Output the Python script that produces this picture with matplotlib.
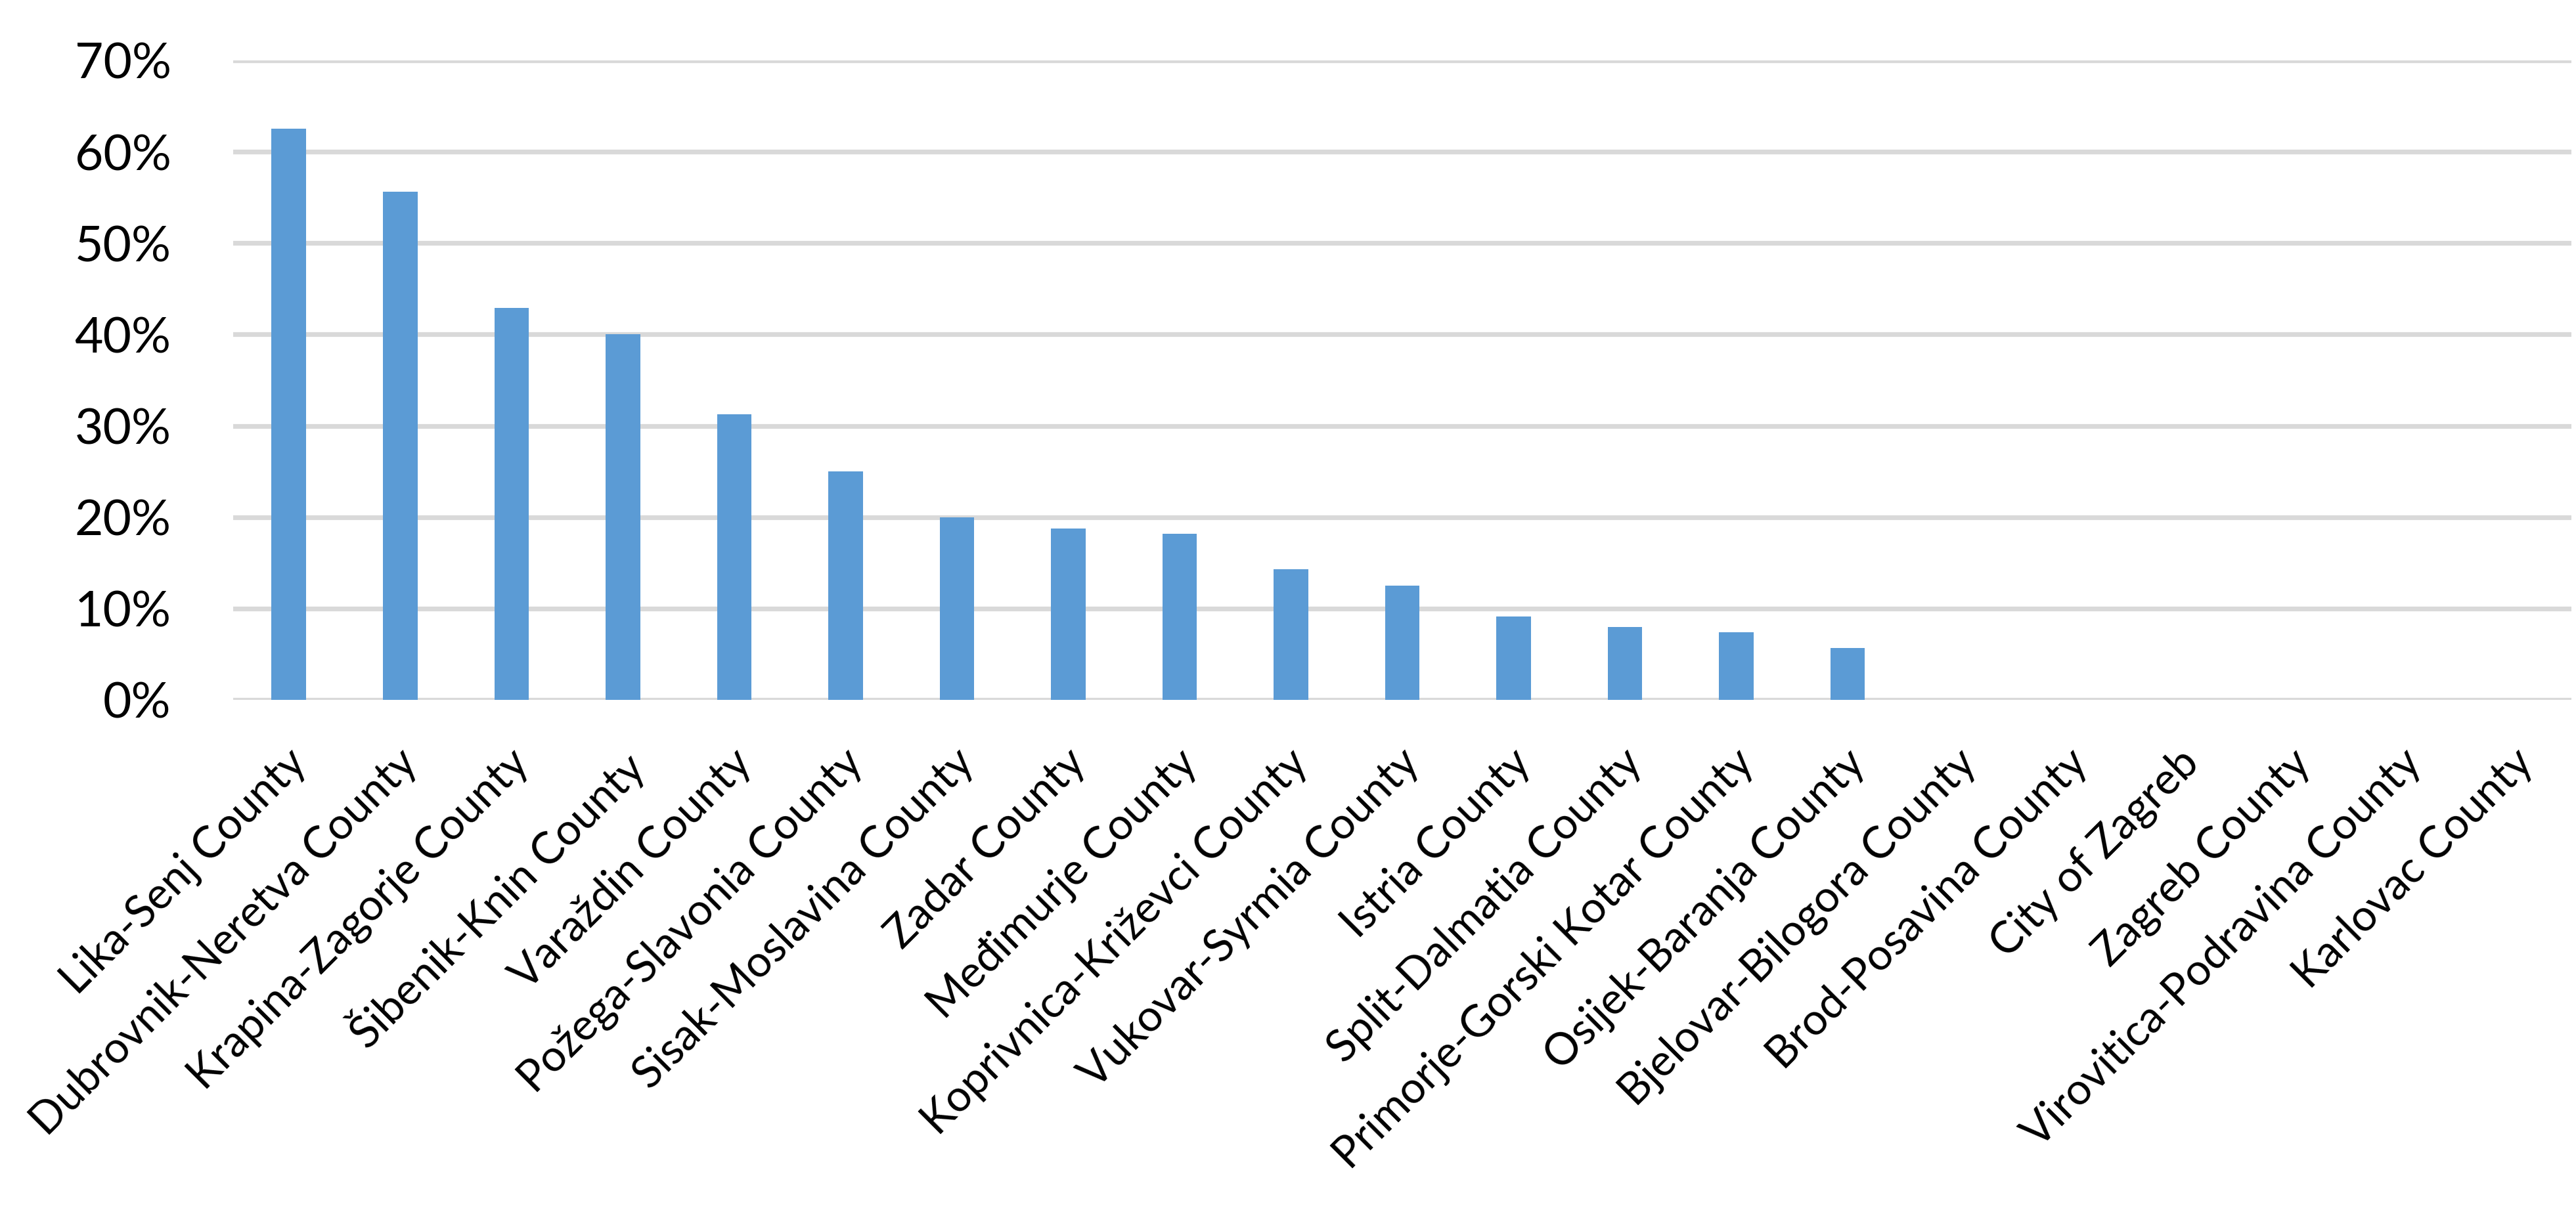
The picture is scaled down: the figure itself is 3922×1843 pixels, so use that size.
import matplotlib
matplotlib.use('Agg')
import matplotlib.pyplot as plt
from matplotlib.ticker import PercentFormatter
from matplotlib.transforms import ScaledTranslation

# county shares
counties = [
    'Lika-Senj County', 'Dubrovnik-Neretva County', 'Krapina-Zagorje County',
    'Šibenik-Knin County', 'Varaždin County', 'Požega-Slavonia County',
    'Sisak-Moslavina County', 'Zadar County', 'Međimurje County',
    'Koprivnica-Križevci County', 'Vukovar-Syrmia County', 'Istria County',
    'Split-Dalmatia County', 'Primorje-Gorski Kotar County', 'Osijek-Baranja County',
    'Bjelovar-Bilogora County', 'Brod-Posavina County', 'City of Zagreb',
    'Zagreb County', 'Virovitica-Podravina County', 'Karlovac County',
]
shares = [62.5, 55.6, 42.9, 40.0, 31.25, 25.0, 20.0, 18.75, 18.2, 14.3,
          12.5, 9.1, 8.0, 7.4, 5.7, 0, 0, 0, 0, 0, 0]
yticks = [0, 10, 20, 30, 40, 50, 60, 70]

plt.rcParams['font.family'] = ['Lato', 'DejaVu Sans']

fig = plt.figure(figsize=(39.22, 18.43), dpi=100)
ax = fig.add_axes([355 / 3922, 1 - 1066 / 1843, (3915 - 355) / 3922, (1066 - 92) / 1843])

x = range(len(counties))
ax.bar(x, shares, width=0.31, color='#5B9BD5', zorder=3)

ax.set_xlim(-0.5, len(counties) - 0.5)
ax.set_ylim(0, 70)
ax.set_yticks(yticks)
ax.yaxis.set_major_formatter(PercentFormatter(decimals=0))
ax.grid(axis='y', color='#D9D9D9', linewidth=5.2, zorder=0)
ax.set_axisbelow(True)
for s in ax.spines.values():
    s.set_visible(False)

ax.tick_params(axis='y', length=0, pad=68, labelsize=54)
ax.tick_params(axis='x', length=0, pad=46, labelsize=48)
ax.set_xticks(list(x))
ax.set_xticklabels(counties, rotation=45, ha='right', va='top', rotation_mode='anchor')
# nudge the rotated labels so their top ends sit just right of the bar centre
offset = ScaledTranslation(-0.06, 0, fig.dpi_scale_trans)
for lbl in ax.get_xticklabels():
    lbl.set_transform(lbl.get_transform() + offset)

fig.savefig('out.png', dpi=100, facecolor='white')
